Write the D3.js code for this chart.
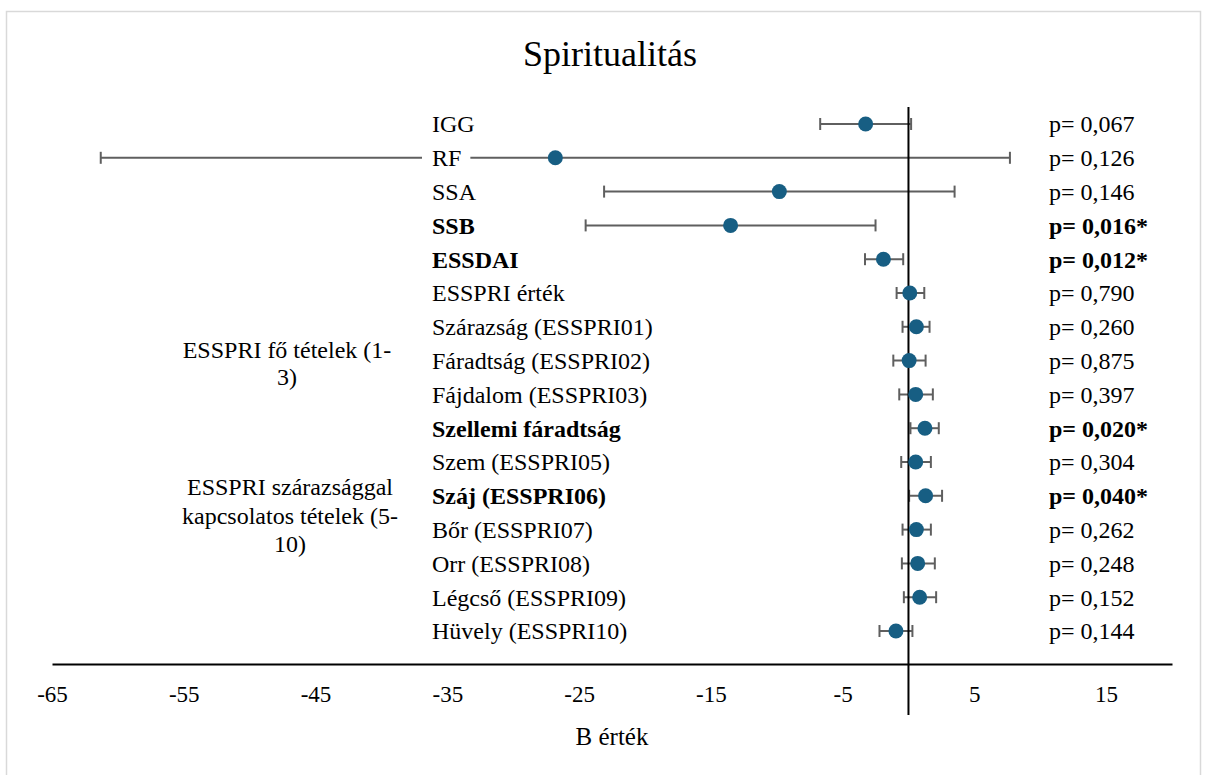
<!DOCTYPE html>
<html>
<head>
<meta charset="utf-8">
<script src="https://cdn.jsdelivr.net/npm/d3@7"></script>
<style>
  body { margin: 0; background: #fff; }
  text { font-family: "Liberation Serif", "Times New Roman", serif; fill: #000; }
</style>
</head>
<body>
<div id="chart"></div>
<script>
// row labels, top to bottom
var labels = ["IGG", "RF", "SSA", "SSB", "ESSDAI", "ESSPRI érték",
  "Szárazság (ESSPRI01)", "Fáradtság (ESSPRI02)", "Fájdalom (ESSPRI03)",
  "Szellemi fáradtság", "Szem (ESSPRI05)", "Száj (ESSPRI06)", "Bőr (ESSPRI07)",
  "Orr (ESSPRI08)", "Légcső (ESSPRI09)", "Hüvely (ESSPRI10)"];
// B estimate and confidence interval
var bValues = [-3.25, -26.8, -9.8, -13.5, -1.9, 0.1, 0.6, 0.05, 0.55, 1.25, 0.55, 1.3, 0.6, 0.7, 0.85, -0.95];
var ciLow = [-6.7, -61.3, -23.1, -24.5, -3.3, -0.9, -0.45, -1.15, -0.7, 0.15, -0.55, 0.05, -0.45, -0.5, -0.35, -2.2];
var ciHigh = [0.2, 7.7, 3.5, -2.5, -0.4, 1.2, 1.6, 1.3, 1.85, 2.3, 1.7, 2.55, 1.7, 2.0, 2.1, 0.3];
var pValues = [0.067, 0.126, 0.146, 0.016, 0.012, 0.790, 0.260, 0.875, 0.397, 0.020, 0.304, 0.040, 0.262, 0.248, 0.152, 0.144];
var tickLabels = [-65, -55, -45, -35, -25, -15, -5, 5, 15];
var groupLabels = [["ESSPRI fő tételek (1-", "3)"], ["ESSPRI szárazsággal", "kapcsolatos tételek (5-", "10)"]];

var width = 1209, height = 775;
var svg = d3.select("#chart").append("svg")
  .attr("width", width).attr("height", height);

// light frame around the chart
svg.append("rect")
  .attr("x", 6.5).attr("y", 11.5)
  .attr("width", 1194).attr("height", 780)
  .attr("fill", "none").attr("stroke", "#d9d9d9").attr("stroke-width", 1.5);

var x = d3.scaleLinear().domain([-65, 20]).range([52, 1172]);
var y = d3.scalePoint().domain(labels).range([124, 631]);

var rows = labels.map(function(l, i){
  return { label: l, b: bValues[i], lo: ciLow[i], hi: ciHigh[i], p: pValues[i], sig: pValues[i] < 0.05 };
});

// title
svg.append("text")
  .attr("x", 610).attr("y", 66)
  .attr("text-anchor", "middle")
  .style("font-size", "36px")
  .text("Spiritualitás");

// x axis
var axisY = 664;
var xAxis = d3.axisBottom(x)
  .tickValues(tickLabels)
  .tickSize(0).tickSizeOuter(0).tickPadding(22)
  .tickFormat(d3.format("d"));
var ax = svg.append("g").attr("transform", "translate(0," + axisY + ")").call(xAxis);
ax.select(".domain").attr("stroke", "#000").attr("stroke-width", 2);
ax.selectAll("text")
  .style("font-family", '"Liberation Serif", "Times New Roman", serif')
  .style("font-size", "23px").attr("fill", "#000")
  .text(function(d){ return d < 0 ? "-" + Math.abs(d) : d; });

svg.append("text")
  .attr("x", 612).attr("y", 745)
  .attr("text-anchor", "middle")
  .style("font-size", "25px")
  .text("B érték");

// error bars
var bars = svg.append("g").selectAll("g")
  .data(rows).enter().append("g");
bars.append("line")
  .attr("x1", function(d){ return x(d.lo); })
  .attr("x2", function(d){ return x(d.hi); })
  .attr("y1", function(d){ return y(d.label); })
  .attr("y2", function(d){ return y(d.label); })
  .attr("stroke", "#5f5f5f").attr("stroke-width", 2);
["lo", "hi"].forEach(function(k){
  bars.append("line")
    .attr("x1", function(d){ return x(d[k]); })
    .attr("x2", function(d){ return x(d[k]); })
    .attr("y1", function(d){ return y(d.label) - 6; })
    .attr("y2", function(d){ return y(d.label) + 6; })
    .attr("stroke", "#5f5f5f").attr("stroke-width", 2);
});

// row labels on white background
var lab = svg.append("g").selectAll("g")
  .data(rows).enter().append("g");
lab.append("text")
  .attr("x", 432)
  .attr("y", function(d){ return y(d.label); })
  .attr("dy", "0.35em")
  .style("font-size", "24px")
  .style("font-weight", function(d){ return d.sig ? "bold" : "normal"; })
  .text(function(d){ return d.label; });
lab.each(function(){
  var g = d3.select(this);
  var bb = g.select("text").node().getBBox();
  g.insert("rect", "text")
    .attr("x", bb.x - 10).attr("y", bb.y)
    .attr("width", bb.width + 19).attr("height", bb.height)
    .attr("fill", "#fff");
});

// zero line
svg.append("line")
  .attr("x1", x(0)).attr("x2", x(0))
  .attr("y1", 107).attr("y2", 715)
  .attr("stroke", "#000").attr("stroke-width", 2);

// points
svg.append("g").selectAll("circle")
  .data(rows).enter().append("circle")
  .attr("cx", function(d){ return x(d.b); })
  .attr("cy", function(d){ return y(d.label); })
  .attr("r", 7.5)
  .attr("fill", "#175e83");

// p values
var fmt = d3.format(".3f");
svg.append("g").selectAll("text")
  .data(rows).enter().append("text")
  .attr("x", 1049)
  .attr("y", function(d){ return y(d.label); })
  .attr("dy", "0.35em")
  .style("font-size", "24px")
  .style("font-weight", function(d){ return d.sig ? "bold" : "normal"; })
  .text(function(d){ return "p= " + fmt(d.p).replace(".", ",") + (d.sig ? "*" : ""); });

// group labels
var groupCenters = [[287, 358, 27], [290, 495, 28.5]];
groupLabels.forEach(function(lines, gi){
  var t = svg.append("text")
    .attr("text-anchor", "middle")
    .style("font-size", "24px");
  lines.forEach(function(line, li){
    t.append("tspan")
      .attr("x", groupCenters[gi][0])
      .attr("y", groupCenters[gi][1] + li * groupCenters[gi][2])
      .text(line);
  });
});
</script>
</body>
</html>
